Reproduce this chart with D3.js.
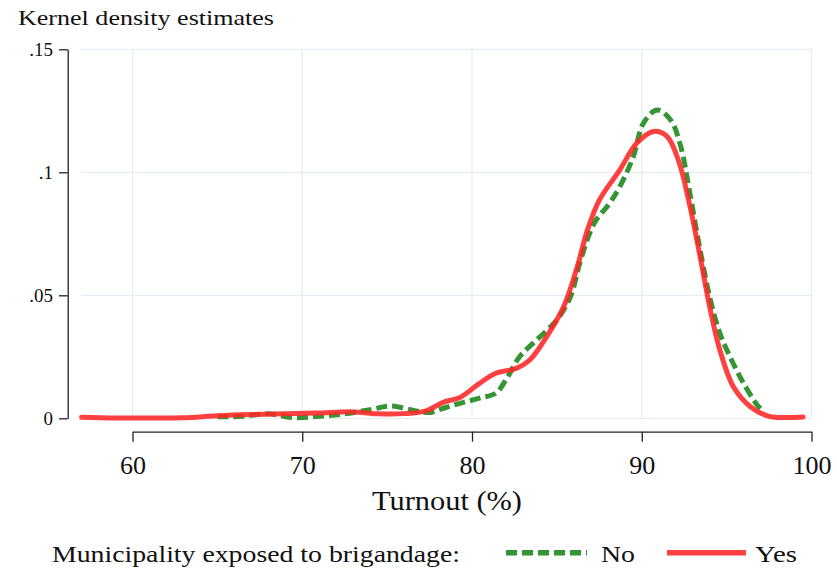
<!DOCTYPE html>
<html><head><meta charset="utf-8">
<script src="https://cdn.jsdelivr.net/npm/d3@7"></script>
<style>body{margin:0;background:#fff}svg{display:block}</style>
</head><body>
<script>
const xTicks = [60, 70, 80, 90, 100];
const yTicks = [0, 0.05, 0.1, 0.15];
const yTickLabels = ["0", ".05", ".1", ".15"];

const yesX = [57, 59, 61, 63, 65, 67, 69, 71, 73, 74.5, 76, 77.3, 78.3, 79.3, 80.4, 81.4, 82.6, 83.4, 84.4, 85.4, 86.2, 86.8, 87.5, 88.7, 89.7, 90.7, 91.5, 92.2, 92.8, 93.4, 94.0, 94.6, 95.4, 96.4, 97.5, 98.5, 99.5];
const yesD = [0.0004, 0.0001, 0.0001, 0.0002, 0.001, 0.0015, 0.0018, 0.0022, 0.0026, 0.0018, 0.0019, 0.003, 0.0065, 0.0085, 0.014, 0.0183, 0.0203, 0.0237, 0.0332, 0.0454, 0.0616, 0.0765, 0.0887, 0.1009, 0.1118, 0.1166, 0.1145, 0.104, 0.0874, 0.0671, 0.0454, 0.0278, 0.0128, 0.0047, 0.0008, 0.0003, 0.0005];

const noX = [65, 66.5, 68, 69.5, 71, 72.5, 74, 75.2, 76.5, 77.5, 78.5, 79.5, 80.5, 81.4, 82.0, 82.8, 83.8, 85.0, 85.8, 86.4, 87.2, 88.1, 88.7, 89.5, 90.1, 90.9, 91.7, 92.3, 92.8, 93.4, 94.0, 94.6, 95.2, 96.0, 96.8, 97.0];
const noD = [0.0006, 0.0008, 0.0018, 0.0003, 0.0008, 0.0018, 0.0035, 0.0050, 0.0033, 0.0024, 0.0045, 0.0065, 0.0083, 0.0102, 0.0156, 0.025, 0.0318, 0.040, 0.0494, 0.0643, 0.0793, 0.0874, 0.0941, 0.1063, 0.12, 0.1253, 0.1213, 0.1104, 0.0928, 0.0698, 0.0494, 0.0346, 0.025, 0.0142, 0.0054, 0.004];

const seriesNames = ["No", "Yes"];
const legendTitle = "Municipality exposed to brigandage:";
const xTitle = "Turnout (%)";
const chartTitle = "Kernel density estimates";

const FONT = "'Liberation Serif', 'Times New Roman', Tinos, serif";
const W = 837, H = 574;
const svg = d3.select("body").append("svg").attr("width", W).attr("height", H);

const x = d3.scaleLinear().domain([60, 100]).range([132.5, 811.5]);
const y = d3.scaleLinear().domain([0, 0.15]).range([418.3, 49.3]);
const plotLeft = 81, plotRight = 812;

// gridlines
const grid = svg.append("g").attr("stroke", "#e6eef1").attr("stroke-width", 1.3);
grid.selectAll("line.h").data(yTicks).join("line")
  .attr("x1", plotLeft).attr("x2", plotRight)
  .attr("y1", d => y(d)).attr("y2", d => y(d));
grid.selectAll("line.v").data(xTicks).join("line")
  .attr("x1", d => x(d)).attr("x2", d => x(d))
  .attr("y1", y(0.15)).attr("y2", y(0));

// axes
const xAxis = svg.append("g").attr("transform", "translate(0,431.7)")
  .call(d3.axisBottom(x).tickValues(xTicks).tickSize(10).tickSizeOuter(0).tickPadding(14));
xAxis.attr("font-family", null).attr("font-size", null);
xAxis.selectAll("text").style("font-family", FONT).style("font-size", "26px").attr("fill", "#111");
xAxis.selectAll("path,line").attr("stroke", "#222").attr("stroke-width", 1.3);

const yAxis = svg.append("g").attr("transform", "translate(67.7,0)")
  .call(d3.axisLeft(y).tickValues(yTicks).tickFormat((d, i) => yTickLabels[i]).tickSize(8.7).tickSizeOuter(0).tickPadding(6));
yAxis.attr("font-family", null).attr("font-size", null);
yAxis.selectAll("text").style("font-family", FONT).style("font-size", "19px").attr("fill", "#111");
yAxis.selectAll("path,line").attr("stroke", "#222").attr("stroke-width", 1.3);

// curves
const line = d3.line().x(d => x(d[0])).y(d => y(d[1])).curve(d3.curveCatmullRom.alpha(0.5));
const noData = noX.map((v, i) => [v, noD[i]]);
const yesData = yesX.map((v, i) => [v, yesD[i]]);
const greenCol = "#2a8f2a", redCol = "#ff2626";
svg.append("path").attr("d", line(noData)).attr("fill", "none")
  .attr("stroke", greenCol).attr("stroke-width", 5).attr("stroke-dasharray", "11,5").attr("opacity", 0.95);
svg.append("path").attr("d", line(yesData)).attr("fill", "none")
  .attr("stroke", redCol).attr("stroke-width", 5).attr("stroke-linecap", "round").attr("opacity", 0.88);

// titles
function txt(xp, yp, size, s, w) {
  return svg.append("text").attr("x", xp).attr("y", yp)
    .style("font-family", FONT).style("font-size", size + "px").attr("fill", "#111")
    .attr("textLength", w).attr("lengthAdjust", "spacingAndGlyphs").text(s);
}
txt(18, 25, 22, chartTitle, 256);
txt(372, 510, 27, xTitle, 150);

// legend
txt(52, 561.5, 24, legendTitle, 408);
svg.append("line").attr("x1", 506).attr("x2", 587).attr("y1", 552.7).attr("y2", 552.7)
  .attr("stroke", greenCol).attr("stroke-width", 5.5).attr("stroke-dasharray", "11,5").attr("opacity", 0.95);
txt(601, 561.5, 24, seriesNames[0], 34);
svg.append("line").attr("x1", 667).attr("x2", 746).attr("y1", 552.7).attr("y2", 552.7)
  .attr("stroke", redCol).attr("stroke-width", 5.5).attr("opacity", 0.88);
txt(755, 561.5, 24, seriesNames[1], 42);
</script>
</body></html>
